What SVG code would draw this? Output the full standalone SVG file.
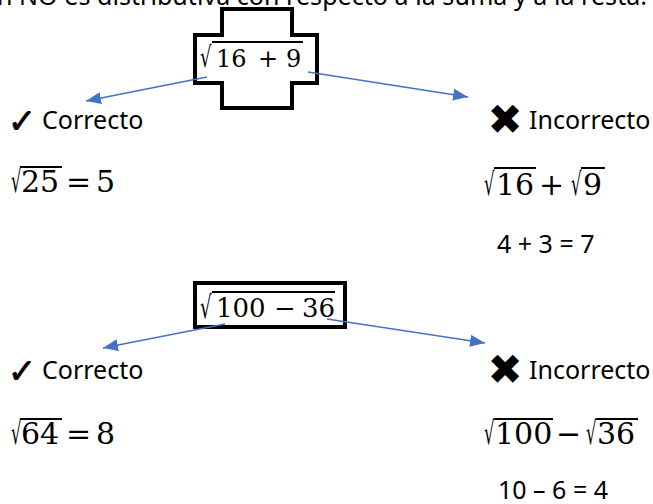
<svg xmlns="http://www.w3.org/2000/svg" width="653" height="504" viewBox="0 0 653 504">
<style>
.t{font-family:"Noto Sans","Open Sans","Liberation Sans",sans-serif;font-size:25px;fill:#000}
.m{font-family:"DejaVu Serif","Liberation Serif",serif;fill:#000}
.ok{font-family:"DejaVu Sans",sans-serif;font-size:34px;font-weight:bold;fill:#000;stroke:#000;stroke-width:0.8;text-anchor:middle;dominant-baseline:central}
.ko{font-family:"DejaVu Sans",sans-serif;font-size:42px;fill:#000;text-anchor:middle;dominant-baseline:central}
.box{fill:#fff;stroke:#000;stroke-width:4}
.vin{stroke:#000;stroke-width:2}
.arr{stroke:#4472C4;stroke-width:1.5;fill:none;marker-end:url(#ah)}
</style>
<defs>
<marker id="ah" markerUnits="userSpaceOnUse" markerWidth="16" markerHeight="13" refX="15" refY="6" orient="auto">
<path d="M0,0 L15,6 L0,12 z" fill="#4472C4"/>
</marker>
</defs>
<rect width="653" height="504" fill="#fff"/>
<text class="t" x="-3" y="5" textLength="650" lengthAdjust="spacing">n NO es distributiva con respecto a la suma y a la resta.</text>

<g id="node-root1">
<polygon class="box" points="222,9 292,9 292,35 317,35 317,83 292,83 292,108 222,108 222,83 195,83 195,35 222,35"/>
<text class="m" font-size="24" transform="translate(200,67) scale(0.75,1.2)">√</text>
<text class="m" font-size="24" y="67"><tspan x="216">16</tspan><tspan x="258">+</tspan><tspan x="286">9</tspan></text>
<line class="vin" x1="212" y1="42" x2="303" y2="42"/>
</g>

<g id="node-correct1">
<text class="ok" x="22" y="121">✓</text>
<text class="t" x="42" y="129">Correcto</text>
<text class="m" font-size="30" transform="translate(11,192) scale(0.55,1.05)">√</text>
<text class="m" font-size="30" y="192"><tspan x="21">25</tspan><tspan x="66">=</tspan><tspan x="96">5</tspan></text>
<line class="vin" x1="20" y1="167" x2="62" y2="167"/>
</g>

<g id="node-incorrect1">
<text class="ko" x="505" y="119">✖</text>
<text class="t" x="529" y="129">Incorrecto</text>
<text class="m" font-size="30" transform="translate(484,195) scale(0.55,1.05)">√</text>
<text class="m" font-size="30" transform="translate(571,195) scale(0.55,1.05)">√</text>
<text class="m" font-size="30" y="195"><tspan x="496">16</tspan><tspan x="539">+</tspan><tspan x="583">9</tspan></text>
<line class="vin" x1="494" y1="168" x2="536" y2="168"/>
<line class="vin" x1="581" y1="168" x2="605" y2="168"/>
<text class="t" x="497" y="253">4 + 3 = 7</text>
</g>

<g id="node-root2">
<rect class="box" x="195" y="283" width="150" height="44"/>
<text class="m" font-size="26" transform="translate(200,318) scale(0.7,1.2)">√</text>
<text class="m" font-size="26" y="317"><tspan x="216">100</tspan><tspan x="274">−</tspan><tspan x="302">36</tspan></text>
<line class="vin" x1="212" y1="292" x2="335" y2="292"/>
</g>

<g id="node-correct2">
<text class="ok" x="22" y="371">✓</text>
<text class="t" x="42" y="379">Correcto</text>
<text class="m" font-size="30" transform="translate(11,444) scale(0.55,1.05)">√</text>
<text class="m" font-size="30" y="444"><tspan x="21">64</tspan><tspan x="66">=</tspan><tspan x="96">8</tspan></text>
<line class="vin" x1="20" y1="419" x2="62" y2="419"/>
</g>

<g id="node-incorrect2">
<text class="ko" x="505" y="369">✖</text>
<text class="t" x="529" y="379">Incorrecto</text>
<text class="m" font-size="30" transform="translate(484,444) scale(0.55,1.05)">√</text>
<text class="m" font-size="30" transform="translate(586,444) scale(0.55,1.05)">√</text>
<text class="m" font-size="30" y="444"><tspan x="495">100</tspan><tspan x="556">−</tspan><tspan x="597">36</tspan></text>
<line class="vin" x1="494" y1="419" x2="553" y2="419"/>
<line class="vin" x1="596" y1="419" x2="638" y2="419"/>
<text class="t" x="498" y="499">10 – 6 = 4</text>
</g>

<g id="connectors">
<line class="arr" x1="207" y1="77" x2="86" y2="101"/>
<line class="arr" x1="308" y1="72" x2="468" y2="97"/>
<line class="arr" x1="225" y1="324" x2="103" y2="348"/>
<line class="arr" x1="327" y1="319" x2="485" y2="343"/>
</g>
</svg>
